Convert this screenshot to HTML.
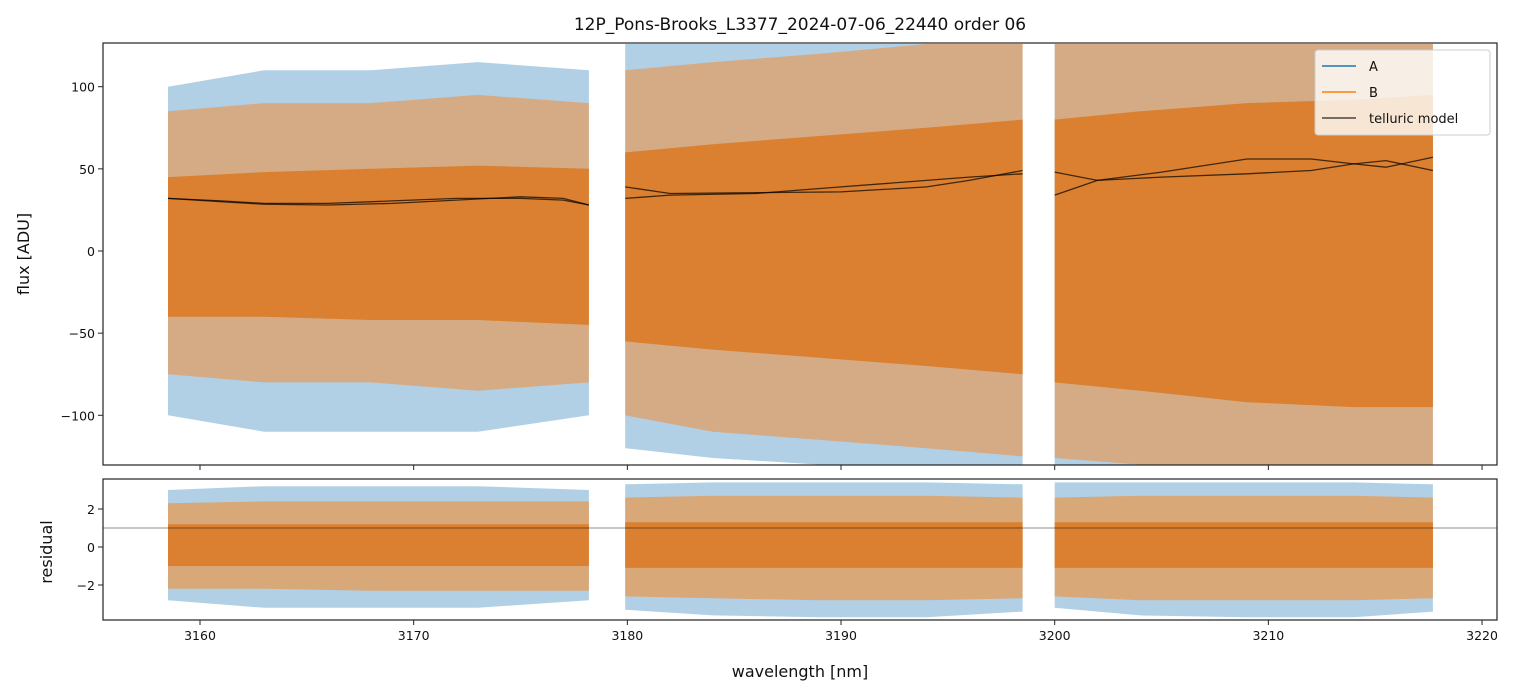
<!DOCTYPE html>
<html><head><meta charset="utf-8">
<style>
html,body{margin:0;padding:0;background:#fff;}
svg{display:block;font-family:"DejaVu Sans","Liberation Sans",sans-serif;}
</style></head>
<body>
<svg id="chart" width="1519" height="696" viewBox="0 0 1519 696" xmlns="http://www.w3.org/2000/svg">
<rect width="1519" height="696" fill="#fff"/>
<text x="800" y="30" text-anchor="middle" font-size="17" fill="#111">12P_Pons-Brooks_L3377_2024-07-06_22440  order 06</text>
<g id="topPanel"></g>
<g id="botPanel"></g>
<text transform="translate(29,254) rotate(-90)" text-anchor="middle" font-size="16" fill="#111">flux [ADU]</text>
<text transform="translate(52,552) rotate(-90)" text-anchor="middle" font-size="16" fill="#111">residual</text>
<text x="800" y="677" text-anchor="middle" font-size="16" fill="#111">wavelength [nm]</text>
<g>
<rect x="1315" y="50" width="175" height="85" rx="3" fill="#fff" fill-opacity="0.8" stroke="#ccc"/>
<line x1="1322" y1="66" x2="1356" y2="66" stroke="#1f77b4" stroke-width="1.5"/>
<text x="1369" y="71" font-size="13" fill="#111">A</text>
<line x1="1322" y1="92" x2="1356" y2="92" stroke="#ff7f0e" stroke-width="1.5"/>
<text x="1369" y="97" font-size="13" fill="#111">B</text>
<line x1="1322" y1="118" x2="1356" y2="118" stroke="#000" stroke-opacity="0.7" stroke-width="1.5"/>
<text x="1369" y="123" font-size="13" fill="#111">telluric model</text>
</g>
</svg>
<script>
// segment knots (wavelength) and envelopes
const segKnots = [[3158.5,3163,3168,3173,3178.2],[3179.9,3184,3189,3194,3198.5],[3200,3204,3209,3214,3217.7]];
const coreHi = [[45,48,50,52,50],[60,65,70,75,80],[80,85,90,92,95]];
const coreLo = [[-40,-40,-42,-42,-45],[-55,-60,-65,-70,-75],[-80,-85,-92,-95,-95]];
const bHi = [[85,90,90,95,90],[110,115,120,126,126],[126,126,126,126,126]];
const bLo = [[-75,-80,-80,-85,-80],[-100,-110,-115,-120,-125],[-126,-130,-130,-130,-130]];
const aHi = [[100,110,110,115,110],[126,126,126,126,126],[126,126,126,126,126]];
const aLo = [[-100,-110,-110,-110,-100],[-120,-126,-130,-130,-130],[-130,-130,-130,-130,-130]];
const resCoreHi = [[1.2,1.2,1.2,1.2,1.2],[1.3,1.3,1.3,1.3,1.3],[1.3,1.3,1.3,1.3,1.3]];
const resCoreLo = [[-1.0,-1.0,-1.0,-1.0,-1.0],[-1.1,-1.1,-1.1,-1.1,-1.1],[-1.1,-1.1,-1.1,-1.1,-1.1]];
const resBHi = [[2.3,2.4,2.4,2.4,2.4],[2.6,2.7,2.7,2.7,2.6],[2.6,2.7,2.7,2.7,2.6]];
const resBLo = [[-2.2,-2.2,-2.3,-2.3,-2.3],[-2.6,-2.7,-2.8,-2.8,-2.7],[-2.6,-2.8,-2.8,-2.8,-2.7]];
const resAHi = [[3.0,3.2,3.2,3.2,3.0],[3.3,3.4,3.4,3.4,3.3],[3.4,3.4,3.4,3.4,3.3]];
const resALo = [[-2.8,-3.2,-3.2,-3.2,-2.8],[-3.3,-3.6,-3.7,-3.7,-3.4],[-3.2,-3.6,-3.7,-3.7,-3.4]];
const resLine = 1.0;
// telluric models
const tellX = [[3158.5,3161,3163,3166,3169,3172,3175,3177,3178.2],[3179.9,3182,3186,3190,3194,3196,3198.5],[3200,3202,3205,3209,3212,3214,3215.5,3217.7]];
const tell1 = [[32,30,28.5,28,29,31,33,32,28],[39,35,35.5,36,39,43,49],[48,43,45,47,49,53,55,49]];
const tell2 = [[32,30.5,29,29,30.5,32,32,31,28],[32,34,35,39,43,45,47],[34,43,48,56,56,53,51,57]];
const xTicks = [3160,3170,3180,3190,3200,3210,3220];
const yTicksTop = [100,50,0,-50,-100];
const yTicksBot = [2,0,-2];

const L=103,R=1497,T1=43,B1=465,T2=479,B2=620;
const x = w => L + (w-3155.46)/(3220.7-3155.46)*(R-L);
const yT = v => Math.max(T1, Math.min(B1, 251 - v*1.643));
const yB = v => Math.max(T2, Math.min(B2, 547 - v*19));
const NS="http://www.w3.org/2000/svg";
function mk(tag, parent, attrs){const e=document.createElementNS(NS,tag);for(const k in attrs)e.setAttribute(k,attrs[k]);parent.appendChild(e);return e;}
function band(parent, xs, hi, lo, ys, fill, op, name){
  let d="M"+xs.map((w,i)=>x(w).toFixed(1)+","+ys(hi[i]).toFixed(1)).join("L");
  for(let i=xs.length-1;i>=0;i--) d+="L"+x(xs[i]).toFixed(1)+","+ys(lo[i]).toFixed(1);
  const p=mk("path",parent,{d:d+"Z",fill:fill,"fill-opacity":op});
  
  
}
function axes(g, ptop, pbot, ticks, ys){
  const r=mk("rect",g,{x:L,y:ptop,width:R-L,height:pbot-ptop,fill:"none",stroke:"#222","stroke-width":1.2});
  
  
  xTicks.forEach(t=>{mk("line",g,{x1:x(t),x2:x(t),y1:pbot,y2:pbot+5,stroke:"#222"});});
  ticks.forEach(t=>{
    mk("line",g,{x1:L-5,x2:L,y1:ys(t),y2:ys(t),stroke:"#222"});
    const tx=mk("text",g,{x:L-8,y:ys(t)+5,"text-anchor":"end","font-size":12.5,fill:"#111"});
    tx.textContent=(t<0?"\u2212"+(-t):t);
    
    
  });
}
const gTop=document.getElementById("topPanel"), gBot=document.getElementById("botPanel");
for(let s=0;s<3;s++){
  const k=segKnots[s];
  band(gTop,k,aHi[s],aLo[s],yT,"#1f77b4",0.35,"series-a-band");
  band(gTop,k,bHi[s],bLo[s],yT,"#ff7f0e",0.45,"series-b-band");
  band(gTop,k,coreHi[s],coreLo[s],yT,"#da8030",1,"series-core-band");
  band(gBot,k,resAHi[s],resALo[s],yB,"#1f77b4",0.35,"residual-a-band");
  band(gBot,k,resBHi[s],resBLo[s],yB,"#ff7f0e",0.5,"residual-b-band");
  band(gBot,k,resCoreHi[s],resCoreLo[s],yB,"#da8030",1,"residual-core-band");
  [tell1[s],tell2[s]].forEach(arr=>{
    const p=mk("polyline",gTop,{points:tellX[s].map((w,i)=>x(w).toFixed(1)+","+yT(arr[i]).toFixed(1)).join(" "),fill:"none",stroke:"#000","stroke-opacity":0.7,"stroke-width":1.3});
    
    
  });
}
const hl=mk("line",gBot,{x1:L,x2:R,y1:yB(resLine),y2:yB(resLine),stroke:"#000","stroke-opacity":0.6,"stroke-width":0.8});


axes(gTop,T1,B1,yTicksTop,yT);
axes(gBot,T2,B2,yTicksBot,yB);
xTicks.forEach(t=>{
  const tx=mk("text",gBot,{x:x(t),y:B2+20,"text-anchor":"middle","font-size":12.5,fill:"#111"});
  tx.textContent=t;
  
  
});
</script>
</body></html>
